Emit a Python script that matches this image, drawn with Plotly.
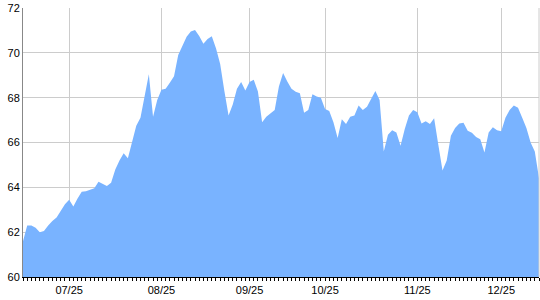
import plotly.graph_objects as go

values = [
    61.6, 62.3, 62.3, 62.2, 62.0, 62.05, 62.3, 62.5, 62.65, 62.95,
    63.25, 63.45, 63.15, 63.5, 63.8, 63.82, 63.9, 63.96, 64.25, 64.15,
    64.06, 64.2, 64.8, 65.2, 65.52, 65.3, 66.0, 66.75, 67.1, 68.1,
    69.05, 67.15, 67.9, 68.35, 68.4, 68.66, 68.95, 69.9, 70.35, 70.72,
    70.95, 71.02, 70.75, 70.4, 70.62, 70.74, 70.2, 69.5, 68.3, 67.2,
    67.7, 68.4, 68.7, 68.32, 68.7, 68.8, 68.28, 66.9, 67.15, 67.28,
    67.45, 68.5, 69.1, 68.72, 68.4, 68.26, 68.2, 67.33, 67.45, 68.15,
    68.05, 68.0, 67.5, 67.4, 66.9, 66.2, 67.04, 66.82, 67.15, 67.2,
    67.65, 67.45, 67.6, 67.95, 68.3, 67.9, 65.6, 66.35, 66.55, 66.45,
    65.85, 66.6, 67.2, 67.45, 67.35, 66.85, 66.95, 66.82, 67.08, 65.9,
    64.75, 65.2, 66.3, 66.65, 66.85, 66.88, 66.52, 66.43, 66.25, 66.14,
    65.55, 66.45, 66.68, 66.55, 66.5, 67.1, 67.45, 67.65, 67.55, 67.1,
    66.65, 66.0, 65.6, 64.4,
]
days = list(range(len(values)))
tick_days = [11, 33, 54, 72, 94, 114]
tick_labels = ["07/25", "08/25", "09/25", "10/25", "11/25", "12/25"]
y_ticks = [60, 62, 64, 66, 68, 70, 72]

fig = go.Figure()
fig.add_trace(go.Scatter(
    x=days, y=values, mode="lines", fill="tozeroy",
    line=dict(width=0, color="#79B3FF"), fillcolor="#79B3FF",
    hoverinfo="skip", showlegend=False,
))

fig.update_layout(
    width=540, height=300,
    margin=dict(l=23, r=1, t=8, b=23),
    paper_bgcolor="white", plot_bgcolor="white",
    font=dict(family="Liberation Sans, Arial, sans-serif", size=11, color="black"),
    xaxis=dict(
        range=[0, len(values) - 1],
        tickmode="array", tickvals=tick_days, ticktext=tick_labels,
        showgrid=True, gridcolor="#CCCCCC", gridwidth=1,
        ticks="outside", ticklen=3, tickcolor="black",
        showline=True, linecolor="black", linewidth=1,
        minor=dict(ticks="outside", ticklen=3, tickcolor="black", dtick=1, tick0=0, showgrid=False),
        zeroline=False,
    ),
    yaxis=dict(
        range=[60, 72], tickvals=y_ticks,
        showgrid=True, gridcolor="#CCCCCC", gridwidth=1,
        showline=True, linecolor="#888888", linewidth=1,
        ticks="", zeroline=False,
    ),
    shapes=[dict(type="line", xref="paper", yref="paper", x0=1, x1=1, y0=0, y1=1,
                 line=dict(color="#CCCCCC", width=1), layer="above")],
)

fig.write_html("out.html")
